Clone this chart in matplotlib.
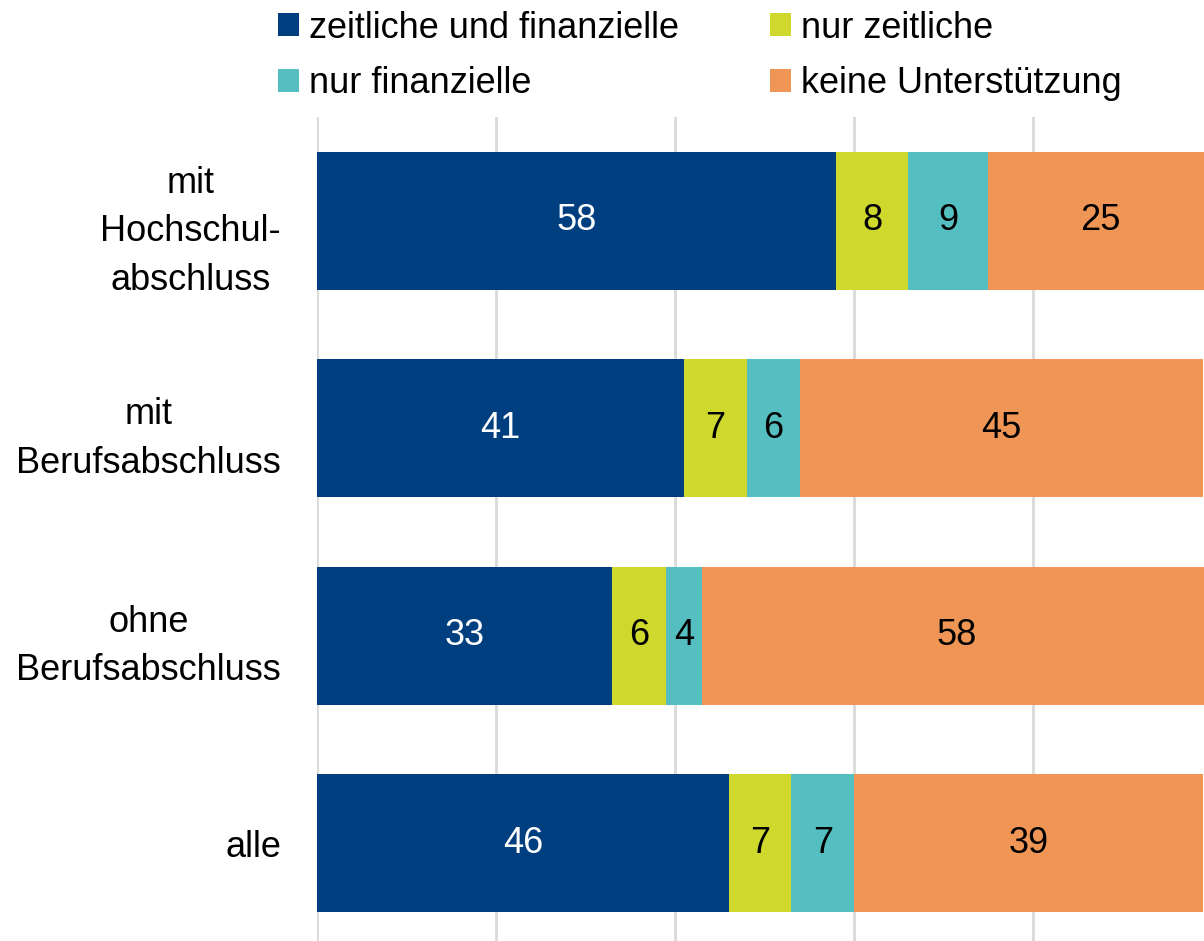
import numpy as np
import matplotlib.pyplot as plt
from matplotlib.patches import Patch

plt.rcParams['font.family'] = ['Liberation Sans', 'DejaVu Sans']

# data
categories = ['mit\nHochschul-\nabschluss', 'mit\nBerufsabschluss',
              'ohne\nBerufsabschluss', 'alle']
series_names = ['zeitliche und finanzielle', 'nur zeitliche',
                'nur finanzielle', 'keine Unterstützung']
zeit_fin = [58, 41, 33, 46]
nur_zeit = [8, 7, 6, 7]
nur_fin = [9, 6, 4, 7]
keine = [25, 45, 58, 39]

colors = ['#003F7F', '#CFD82D', '#55BEC0', '#EF9657']
label_colors = ['white', 'black', 'black', 'black']

fsize = 26

fig = plt.figure(figsize=(12.04, 9.41), dpi=100)
ax = fig.add_axes([0.2633, -0.0061, 0.7434, 0.8815])

y = np.arange(len(categories))
left = np.zeros(len(categories))
for vals, col, lc in zip([zeit_fin, nur_zeit, nur_fin, keine], colors, label_colors):
    vals = np.array(vals, dtype=float)
    bars = ax.barh(y, vals, left=left, height=0.665, color=col, zorder=2)
    ax.bar_label(bars, labels=[str(int(v)) for v in vals], label_type='center',
                 color=lc, fontsize=fsize)
    left += vals

ax.set_xlim(0, 100)
ax.set_ylim(3.5, -0.5)
ax.set_xticks([0, 20, 40, 60, 80, 100])
ax.set_xticklabels([])
ax.xaxis.grid(True, color='#D9D9D9', linewidth=2)
ax.set_axisbelow(True)
ax.set_yticks(y)
ax.set_yticklabels(categories, fontsize=fsize, multialignment='center',
                   linespacing=1.5)
ax.tick_params(axis='both', length=0)
ax.tick_params(axis='y', pad=26)
for s in ax.spines.values():
    s.set_visible(False)

# legend is filled row by row in the original
handles = [Patch(facecolor=c, edgecolor='none') for c in colors]
order = [0, 2, 1, 3]
fig.legend([handles[i] for i in order], [series_names[i] for i in order],
           loc='upper left', bbox_to_anchor=(274 / 1204, 0.9926),
           ncol=2, frameon=False, fontsize=fsize, borderpad=0.1,
           handlelength=0.58, handleheight=0.6, handletextpad=0.3,
           columnspacing=2.5, labelspacing=0.57, borderaxespad=0)

fig.savefig('out.png', dpi=100)
